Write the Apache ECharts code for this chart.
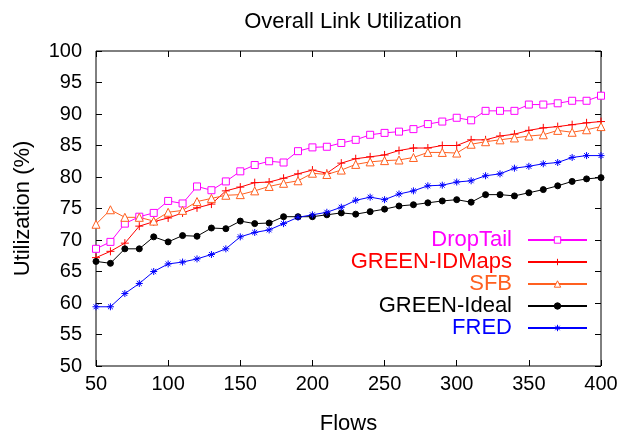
<!DOCTYPE html>
<html>
<head>
<meta charset="utf-8">
<script src="https://cdn.jsdelivr.net/npm/echarts@6/dist/echarts.min.js"></script>
<style>
  html, body { margin: 0; padding: 0; background: #fff; }
  #chart { width: 620px; height: 436px; }
</style>
</head>
<body>
<div id="chart"></div>
<script>
// Number of flows on the x axis
const flows = [50, 60, 70, 80, 90, 100, 110, 120, 130, 140, 150, 160, 170, 180, 190, 200, 210, 220,
  230, 240, 250, 260, 270, 280, 290, 300, 310, 320, 330, 340, 350, 360, 370, 380, 390, 400];

// Link utilization (%) per queue management scheme
const dropTail = [68.6, 69.7, 72.6, 73.7, 74.3, 76.2, 75.8, 78.5, 77.9, 79.3, 80.9, 81.9, 82.5, 82.3, 84.1, 84.7, 84.8, 85.4,
  85.9, 86.7, 87.0, 87.2, 87.6, 88.4, 88.8, 89.4, 89.0, 90.5, 90.5, 90.5, 91.5, 91.5, 91.7, 92.1, 92.1, 92.9];
const greenIdMaps = [67.2, 68.2, 69.5, 72.2, 72.9, 73.5, 74.3, 75.1, 75.7, 77.8, 78.4, 79.1, 79.2, 79.8, 80.5, 81.1, 80.6, 82.2,
  82.9, 83.2, 83.5, 84.2, 84.6, 84.6, 85.0, 85.0, 85.9, 85.9, 86.5, 86.8, 87.4, 87.8, 88.0, 88.3, 88.6, 88.8];
const sfb = [72.5, 74.8, 73.6, 73.6, 73.0, 74.4, 74.7, 76.1, 76.6, 77.1, 77.2, 77.8, 78.5, 79.0, 79.4, 80.6, 80.4, 81.1,
  82.0, 82.4, 82.6, 82.7, 83.1, 83.9, 83.9, 83.8, 85.2, 85.6, 85.9, 86.2, 86.5, 86.7, 87.4, 87.1, 87.5, 88.0];
const greenIdeal = [66.6, 66.3, 68.6, 68.6, 70.5, 69.7, 70.7, 70.6, 71.9, 71.8, 73.0, 72.6, 72.7, 73.7, 73.7, 73.7, 74.0, 74.3,
  74.1, 74.5, 74.9, 75.4, 75.6, 75.9, 76.2, 76.4, 76.0, 77.2, 77.2, 77.0, 77.5, 78.0, 78.6, 79.3, 79.7, 79.9];
const fred = [59.4, 59.4, 61.5, 63.1, 65.0, 66.2, 66.5, 67.0, 67.7, 68.6, 70.5, 71.2, 71.6, 72.6, 73.6, 74.0, 74.4, 75.2,
  76.3, 76.8, 76.4, 77.3, 77.8, 78.6, 78.7, 79.2, 79.4, 80.2, 80.5, 81.4, 81.7, 82.1, 82.3, 83.1, 83.4, 83.4];

const FONT = '"Liberation Sans", Arial, Helvetica, sans-serif';
// Point shapes: outlined square, plus, outlined triangle, dot, asterisk
const SQUARE = 'path://M-1,-1H1V1H-1Z';
const PLUS = 'path://M-1,0H1M0,-1V1';
const TRIANGLE = 'path://M0,-1L1,0.8H-1Z';
const ASTERISK = 'path://M-1,0H1M0,-1V1M-0.7,-0.7L0.7,0.7M-0.7,0.7L0.7,-0.7';

const lines = [
  { name: 'DropTail', values: dropTail, color: '#ff00ff', fill: '#ffffff', symbol: SQUARE, size: 7 },
  { name: 'GREEN-IDMaps', values: greenIdMaps, color: '#ff0000', fill: '#ff0000', symbol: PLUS, size: 8 },
  { name: 'SFB', values: sfb, color: '#ff6020', fill: '#ffffff', symbol: TRIANGLE, size: 8 },
  { name: 'GREEN-Ideal', values: greenIdeal, color: '#000000', fill: '#000000', symbol: 'circle', size: 6 },
  { name: 'FRED', values: fred, color: '#0000ff', fill: '#0000ff', symbol: ASTERISK, size: 7 }
];

const tickStyle = { show: true, inside: true, length: 6, lineStyle: { color: '#000', width: 1 } };

const chart = echarts.init(document.getElementById('chart'));
chart.setOption({
  animation: false,
  backgroundColor: '#fff',
  title: {
    text: 'Overall Link Utilization',
    left: 348,
    textAlign: 'center',
    top: 6,
    textStyle: { fontFamily: FONT, fontSize: 22, fontWeight: 'normal', color: '#000' }
  },
  grid: {
    left: 96, right: 19, top: 51, bottom: 70,
    outerBoundsMode: 'none',
    containLabel: false,
    show: true, borderColor: '#000', borderWidth: 1, backgroundColor: 'transparent'
  },
  legend: {
    orient: 'vertical',
    align: 'right',
    right: 32,
    top: 229,
    itemWidth: 59,
    itemHeight: 8,
    itemGap: 0,
    padding: 0,
    data: lines.map(l => ({
      name: l.name,
      textStyle: { color: l.color },
      itemStyle: { color: l.fill, borderColor: l.color, borderWidth: 1 }
    })),
    textStyle: { fontFamily: FONT, fontSize: 22, lineHeight: 22, padding: [0, 11, 0, 0] }
  },
  xAxis: [
    {
      type: 'value', min: 50, max: 400, interval: 50,
      name: 'Flows', nameLocation: 'middle', nameGap: 47,
      nameTextStyle: { fontFamily: FONT, fontSize: 22, color: '#000' },
      axisLine: { show: false },
      axisTick: tickStyle,
      axisLabel: { fontFamily: FONT, fontSize: 20, color: '#000', margin: 8 },
      splitLine: { show: false }
    },
    {
      type: 'value', position: 'top', min: 50, max: 400, interval: 50,
      axisLine: { show: false }, axisTick: tickStyle,
      axisLabel: { show: false }, splitLine: { show: false }
    }
  ],
  yAxis: [
    {
      type: 'value', min: 50, max: 100, interval: 5,
      name: 'Utilization (%)', nameLocation: 'middle', nameGap: 62,
      nameTextStyle: { fontFamily: FONT, fontSize: 22, color: '#000' },
      axisLine: { show: false },
      axisTick: tickStyle,
      axisLabel: { fontFamily: FONT, fontSize: 20, color: '#000', margin: 14 },
      splitLine: { show: false }
    },
    {
      type: 'value', position: 'right', min: 50, max: 100, interval: 5,
      axisLine: { show: false }, axisTick: tickStyle,
      axisLabel: { show: false }, splitLine: { show: false }
    }
  ],
  series: lines.map(l => ({
    name: l.name,
    type: 'line',
    xAxisIndex: 0,
    yAxisIndex: 0,
    data: flows.map((f, i) => [f, l.values[i]]),
    symbol: l.symbol,
    symbolSize: l.size,
    lineStyle: { color: l.color, width: 1 },
    itemStyle: { color: l.fill, borderColor: l.color, borderWidth: 1 },
    emphasis: { disabled: true }
  }))
});
</script>
</body>
</html>
